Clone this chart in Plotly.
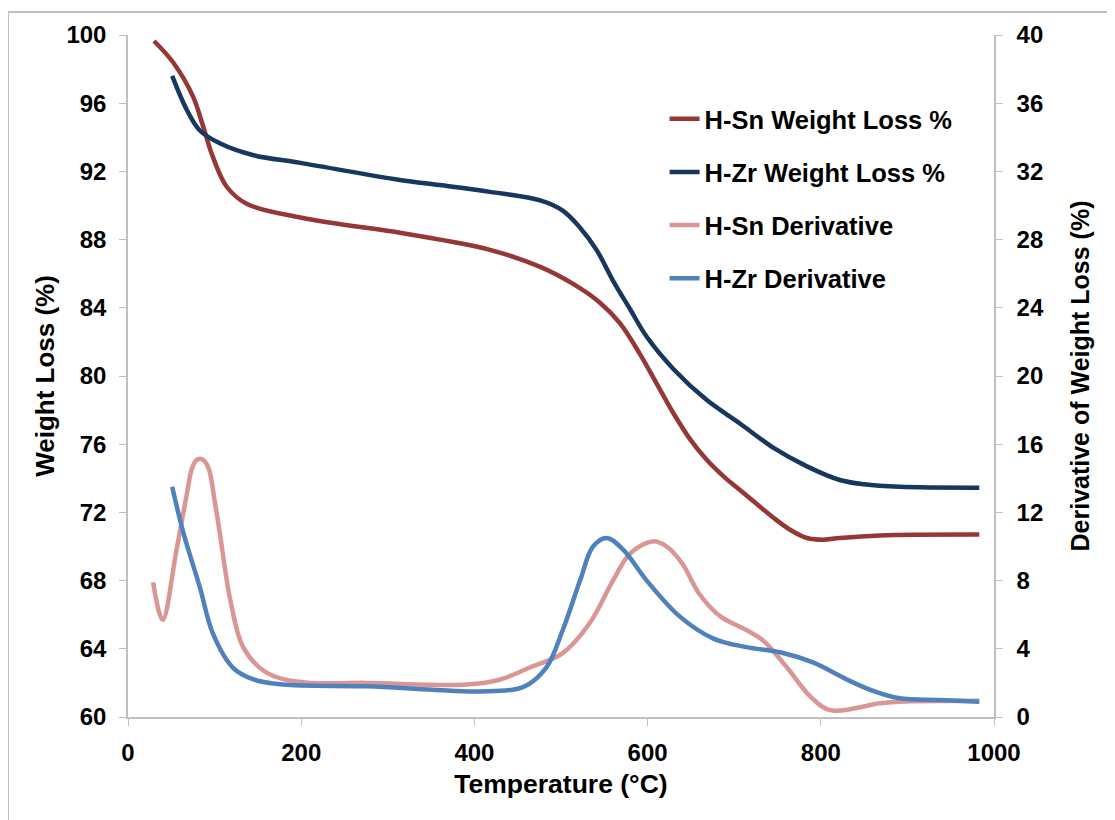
import plotly.graph_objects as go

# H-Sn weight loss (%)
sn_w_temp = [30, 52, 75, 87, 98, 114, 137, 199, 314, 360, 418, 476, 514, 545, 568, 591, 610, 630, 649, 668, 688, 707, 745, 764, 784, 803, 822, 868, 983]
sn_w = [99.65, 98.4, 96.4, 94.6, 92.85, 91.1, 90.1, 89.3, 88.4, 88.0, 87.4, 86.4, 85.4, 84.3, 83.1, 81.3, 79.6, 77.8, 76.3, 75.1, 74.1, 73.3, 71.7, 71.0, 70.5, 70.4, 70.5, 70.65, 70.7]

# H-Zr weight loss (%)
zr_w_temp = [51, 68, 83, 106, 145, 199, 314, 360, 418, 476, 502, 522, 541, 560, 580, 599, 630, 668, 707, 745, 784, 822, 850, 891, 983]
zr_w = [97.6, 95.6, 94.4, 93.65, 92.95, 92.5, 91.5, 91.2, 90.8, 90.3, 89.7, 88.7, 87.4, 85.6, 83.9, 82.3, 80.4, 78.6, 77.2, 75.8, 74.7, 73.9, 73.65, 73.5, 73.45]

# H-Sn derivative (%)
sn_d_temp = [29, 40, 56, 68, 74, 80, 86, 93, 100, 106, 112, 118, 133, 160, 199, 276, 391, 430, 464, 502, 533, 560, 580, 606, 622, 640, 660, 684, 714, 733, 761, 788, 811, 868, 891, 983]
sn_d = [7.9, 5.7, 9.8, 13.1, 14.6, 15.1, 15.1, 14.6, 12.7, 10.8, 8.7, 6.9, 4.1, 2.6, 2.05, 2.0, 1.9, 2.2, 2.9, 3.75, 5.5, 8.0, 9.6, 10.3, 10.0, 9.0, 7.2, 5.9, 5.1, 4.5, 2.9, 1.2, 0.4, 0.8, 0.9, 0.95]

# H-Zr derivative (%)
zr_d_temp = [51, 64, 83, 98, 121, 145, 179, 276, 352, 406, 456, 483, 502, 522, 537, 553, 572, 599, 637, 676, 714, 753, 791, 830, 862, 891, 937, 983]
zr_d = [13.5, 10.8, 7.6, 4.9, 2.9, 2.2, 1.9, 1.8, 1.6, 1.5, 1.75, 2.9, 5.1, 8.0, 10.0, 10.5, 9.8, 8.0, 5.9, 4.6, 4.1, 3.8, 3.2, 2.2, 1.5, 1.1, 1.0, 0.9]

names = ["H-Sn Weight Loss %", "H-Zr Weight Loss %", "H-Sn Derivative", "H-Zr Derivative"]
colors = ["#953735", "#17375E", "#D99694", "#4F81BD"]

FONT = "Arial, Liberation Sans, sans-serif"
LW = 4.5
SM = 1.0

fig = go.Figure()
fig.add_trace(go.Scatter(x=sn_w_temp, y=sn_w, name=names[0], mode="lines",
                         line=dict(color=colors[0], width=LW, shape="spline", smoothing=SM),
                         legendgroup="a"))
fig.add_trace(go.Scatter(x=zr_w_temp, y=zr_w, name=names[1], mode="lines",
                         line=dict(color=colors[1], width=LW, shape="spline", smoothing=SM),
                         legendgroup="b"))
fig.add_trace(go.Scatter(x=sn_d_temp, y=sn_d, name=names[2], mode="lines", yaxis="y2",
                         line=dict(color=colors[2], width=LW, shape="spline", smoothing=SM),
                         legendgroup="c"))
fig.add_trace(go.Scatter(x=zr_d_temp, y=zr_d, name=names[3], mode="lines", yaxis="y2",
                         line=dict(color=colors[3], width=LW, shape="spline", smoothing=SM),
                         legendgroup="d"))

axis_common = dict(showline=True, linecolor="#BFBFBF", linewidth=1.5, ticks="outside",
                   tickcolor="#BFBFBF", ticklen=7, showgrid=False, zeroline=False,
                   tickfont=dict(family=FONT, size=24, color="#000000", weight="bold"))

fig.update_layout(
    width=1115, height=820,
    margin=dict(l=120, r=129, t=27, b=111),
    paper_bgcolor="white", plot_bgcolor="white",
    font=dict(family=FONT, color="#000000"),
    xaxis=dict(range=[0, 1000], tickvals=[0, 200, 400, 600, 800, 1000], **axis_common,
               ticklabelstandoff=6,
               title=dict(text="Temperature (°C)", font=dict(family=FONT, size=26.5, weight="bold"), standoff=10)),
    yaxis=dict(range=[60, 100], tickvals=list(range(60, 101, 4)), **axis_common,
               ticklabelstandoff=8,
               title=dict(text="Weight Loss (%)", font=dict(family=FONT, size=26, weight="bold"), standoff=4)),
    yaxis2=dict(range=[0, 40], tickvals=list(range(0, 41, 4)), overlaying="y", side="right", **axis_common,
                ticklabelstandoff=9,
                title=dict(text="Derivative of Weight Loss (%)", font=dict(family=FONT, size=25, weight="bold"), standoff=29)),
    legend=dict(x=0.6196, y=0.911, xanchor="left", yanchor="top", bgcolor="rgba(0,0,0,0)",
                font=dict(family=FONT, size=25.5, color="#000000", weight="bold"),
                tracegroupgap=17, itemwidth=30, traceorder="grouped"),
    showlegend=True,
)

# outer chart border
fig.add_shape(type="rect", xref="paper", yref="paper",
              x0=(0 - 120) / 866, x1=(1125 - 120) / 866,
              y0=(709 - 830) / 682, y1=(709 - 4) / 682,
              line=dict(color="#BFBFBF", width=2), fillcolor="rgba(0,0,0,0)", layer="below")

fig.write_html("out.html")
